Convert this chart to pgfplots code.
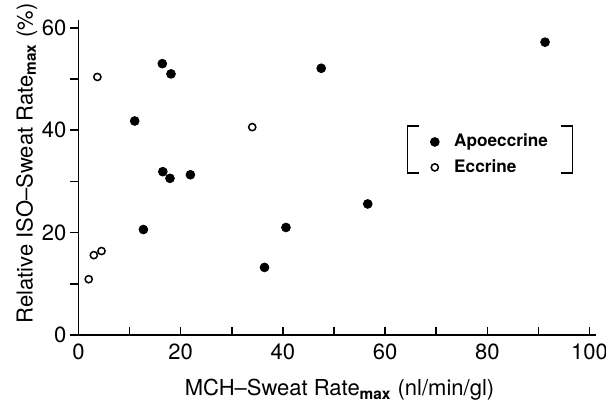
\documentclass[border=0pt]{standalone}
\usepackage{fontspec}
\setmainfont{TeX Gyre Heros}
\usepackage{pgfplots}
\pgfplotsset{compat=1.18}
\begin{document}
\begin{tikzpicture}
\useasboundingbox (-39.25pt,-34.5pt) rectangle (263.75pt,167.5pt);
\begin{axis}[
  anchor=origin, at={(0,0)},
  x=2.555pt, y=2.56pt,
  xmin=0, xmax=101.2, ymin=0, ymax=61.5,
  axis lines=left,
  axis line style={-, line width=0.9pt},
  xtick={0,20,40,60,80,100}, ytick={0,20,40,60},
  minor xtick={10,30,50,70,90}, minor ytick={10,30,50},
  xtick align=inside, ytick align=outside,
  major tick length=4pt, minor tick length=4pt,
  every tick/.style={line width=0.8pt, black},
  /pgf/number format/assume math mode=true,
  tick label style={font=\fontsize{11}{13}\selectfont},
  xticklabel style={yshift=-1pt},
  yticklabel style={xshift=1.5pt},
  clip=false,
  xlabel={MCH--Sweat Rate\textsubscript{\textbf{max}} (nl/min/gl)},
  ylabel={Relative ISO--Sweat Rate\textsubscript{\textbf{max}} (\%)},
  label style={font=\fontsize{11}{13}\selectfont},
  xlabel style={at={(axis description cs:0.5047,-0.1931)}, anchor=base},
  ylabel style={at={(axis description cs:-0.0889,0.5447)}, anchor=base, rotate=0},
  legend style={draw=none, fill=none, at={(axis cs:68.4,40.5)}, anchor=north west,
    font=\bfseries\fontsize{8.6}{10}\selectfont, row sep=0.8pt, inner sep=1pt},
  legend cell align=left,
]
\addplot[only marks, mark=*, mark size=2.2pt, black] coordinates {
 (16.4,53.0) (18.1,51.0) (11.0,41.8) (16.5,31.9) (17.9,30.6) (21.9,31.3)
 (12.7,20.6) (40.6,21.0) (36.4,13.2) (47.5,52.1) (91.3,57.2) (56.6,25.6)
};
\addlegendentry{\hspace{5.5pt}Apoeccrine}
\addplot[only marks, mark=o, mark size=1.8pt, black, line width=0.75pt] coordinates {
 (3.7,50.4) (3.0,15.6) (4.5,16.4) (2.0,10.9) (34.0,40.6)
};
\addlegendentry{\hspace{5.5pt}Eccrine}
\draw[line width=0.8pt] (axis cs:66.7,40.8) -| (axis cs:64.4,31.6) -- (axis cs:66.7,31.6);
\draw[line width=0.8pt] (axis cs:94.4,40.8) -| (axis cs:96.7,31.6) -- (axis cs:94.4,31.6);
\end{axis}
\end{tikzpicture}
\end{document}
